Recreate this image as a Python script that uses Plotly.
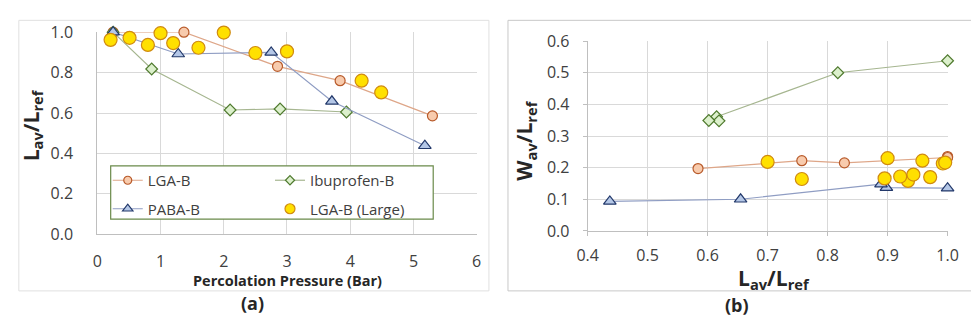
import plotly.graph_objects as go

W, H = 971, 328

# ---------------- Data (panel a) ----------------
press_lga = [0.25, 1.37, 2.85, 3.84, 5.30]
lav_lga = [1.00, 1.00, 0.831, 0.760, 0.586]

press_ibu = [0.25, 0.86, 2.10, 2.89, 3.94]
lav_ibu = [1.00, 0.818, 0.615, 0.620, 0.605]

press_paba = [0.25, 1.28, 2.75, 3.71, 5.18]
lav_paba = [1.00, 0.892, 0.900, 0.658, 0.438]

press_large = [0.21, 0.51, 0.80, 1.00, 1.20, 1.60, 2.00, 2.50, 3.00, 4.18, 4.49]
lav_large = [0.962, 0.972, 0.937, 0.995, 0.946, 0.923, 0.998, 0.897, 0.905, 0.760, 0.702]

# ---------------- Data (panel b) ----------------
b_lav_lga = [1.00, 1.00, 0.828, 0.757, 0.584]
b_wav_lga = [0.235, 0.232, 0.215, 0.222, 0.197]

b_lav_ibu = [1.00, 0.817, 0.615, 0.619, 0.602]
b_wav_ibu = [0.538, 0.500, 0.361, 0.348, 0.349]

b_lav_paba = [1.00, 0.898, 0.889, 0.655, 0.437]
b_wav_paba = [0.135, 0.137, 0.148, 0.100, 0.093]

b_lav_large = [0.958, 0.971, 0.934, 0.992, 0.943, 0.921, 0.996, 0.895, 0.900, 0.757, 0.700]
b_wav_large = [0.222, 0.170, 0.158, 0.213, 0.178, 0.172, 0.216, 0.166, 0.230, 0.164, 0.218]

names = ["LGA-B", "Ibuprofen-B", "PABA-B", "LGA-B (Large)"]

# ---------------- Styles ----------------
FONT = "Open Sans"
TXT = "#404040"
GRID = "#d9d9d9"
AXL = "#bfbfbf"

line_sty = {
    "LGA-B": dict(color="#dea688", width=1.2),
    "Ibuprofen-B": dict(color="#a6b690", width=1.2),
    "PABA-B": dict(color="#8f9dc3", width=1.2),
    "LGA-B (Large)": None,
}
mk_sty = {
    "LGA-B": dict(symbol="circle", size=10, color="#f8cbad", line=dict(color="#b85a2a", width=1.2)),
    "Ibuprofen-B": dict(symbol="diamond", size=9, color="#dcf0cc", line=dict(color="#4f7a2e", width=1.2)),
    "PABA-B": dict(symbol="triangle-up", size=11, color="#b4c7e7", line=dict(color="#22386a", width=1.2)),
    "LGA-B (Large)": dict(symbol="circle", size=13, color="#ffe000", line=dict(color="#d08a10", width=1.2)),
}
legend_mk_size = {"LGA-B": 8, "Ibuprofen-B": 7, "PABA-B": 9, "LGA-B (Large)": 10}
legend_of = {"LGA-B": "legend", "PABA-B": "legend", "Ibuprofen-B": "legend2", "LGA-B (Large)": "legend2"}


def px_x(p):
    return p / W


def px_y(p):
    return (H - p) / H


def trace_kw(nm):
    kw = dict(marker=mk_sty[nm])
    if line_sty[nm] is None:
        kw["mode"] = "markers"
    else:
        kw["mode"] = "lines+markers"
        kw["line"] = line_sty[nm]
    return kw


fig = go.Figure()

a_data = [(press_lga, lav_lga), (press_ibu, lav_ibu), (press_paba, lav_paba), (press_large, lav_large)]
b_data = [(b_lav_lga, b_wav_lga), (b_lav_ibu, b_wav_ibu), (b_lav_paba, b_wav_paba), (b_lav_large, b_wav_large)]

for nm, (xs, ys) in zip(names, a_data):
    fig.add_trace(go.Scatter(x=xs, y=ys, name=nm, xaxis="x", yaxis="y",
                             showlegend=False, legendgroup=nm,
                             cliponaxis=False, **trace_kw(nm)))
for nm, (xs, ys) in zip(names, b_data):
    fig.add_trace(go.Scatter(x=xs, y=ys, name=nm, xaxis="x2", yaxis="y2",
                             legendgroup=nm, showlegend=False,
                             cliponaxis=False, **trace_kw(nm)))
# legend entries (smaller symbols, as in the reference legend)
for nm in names:
    kw = trace_kw(nm)
    mk = dict(mk_sty[nm])
    mk["size"] = legend_mk_size[nm]
    kw["marker"] = mk
    fig.add_trace(go.Scatter(x=[None], y=[None], name=nm, xaxis="x", yaxis="y",
                             legend=legend_of[nm], legendgroup=nm, showlegend=True, **kw))

tickfont = dict(family=FONT, size=16, color=TXT)

fig.update_layout(
    width=W, height=H, margin=dict(l=0, r=0, t=0, b=0),
    paper_bgcolor="white", plot_bgcolor="white",
    font=dict(family=FONT, color=TXT),
    xaxis=dict(domain=[px_x(88.3), px_x(476.5)], range=[0, 6], dtick=1,
               showgrid=True, gridcolor=GRID, gridwidth=1,
               showline=True, linecolor=AXL, zeroline=False,
               ticks="", tickfont=tickfont, ticklabelstandoff=13, anchor="y"),
    yaxis=dict(domain=[px_y(239.3), px_y(22.7)], range=[0, 1.0], dtick=0.2, tickformat=".1f",
               showgrid=True, gridcolor=GRID, gridwidth=1,
               showline=True, linecolor=AXL, zeroline=False,
               ticks="", tickfont=tickfont, ticklabelstandoff=20, anchor="x"),
    xaxis2=dict(domain=[px_x(590), px_x(958.3)], range=[0.4, 1.0], dtick=0.1, tickformat=".1f",
                showgrid=True, gridcolor=GRID, gridwidth=1,
                showline=True, linecolor=AXL, zeroline=False,
                ticks="outside", ticklen=4, tickcolor=AXL,
                tickfont=tickfont, ticklabelstandoff=6, anchor="y2"),
    yaxis2=dict(domain=[px_y(235.7), px_y(32.3)], range=[0, 0.6], dtick=0.1, tickformat=".1f",
                showgrid=True, gridcolor=GRID, gridwidth=1,
                showline=True, linecolor=AXL, zeroline=False,
                ticks="outside", ticklen=4, tickcolor=AXL,
                tickfont=tickfont, ticklabelstandoff=10, anchor="x2"),
    legend=dict(x=px_x(99), y=px_y(164), xanchor="left", yanchor="top",
                bgcolor="rgba(0,0,0,0)", borderwidth=0, tracegroupgap=6,
                font=dict(family=FONT, size=15, color=TXT)),
    legend2=dict(x=px_x(265), y=px_y(164), xanchor="left", yanchor="top",
                 bgcolor="rgba(0,0,0,0)", borderwidth=0, tracegroupgap=6,
                 font=dict(family=FONT, size=15, color=TXT)),
    shapes=[
        dict(type="rect", xref="paper", yref="paper", x0=px_x(8), x1=px_x(489),
             y0=px_y(300), y1=px_y(10), line=dict(color="#e0e0e0", width=1), layer="below"),
        dict(type="rect", xref="paper", yref="paper", x0=px_x(508.5), x1=px_x(990),
             y0=px_y(300), y1=px_y(10), line=dict(color="#c8c8c8", width=1), layer="below"),
        dict(type="rect", xref="paper", yref="paper", x0=px_x(102), x1=px_x(432),
             y0=px_y(223), y1=px_y(166), line=dict(color="#6a8a4a", width=1.2),
             fillcolor="white", layer="above"),
    ],
)

ann = []


def add_ann(text, x, y, size, angle=0):
    ann.append(dict(text=text, x=px_x(x), y=px_y(y), xref="paper", yref="paper",
                    showarrow=False, textangle=angle, xanchor="center", yanchor="middle",
                    font=dict(family=FONT, size=size, color="#262626")))


add_ann("<b>L<sub>av</sub>/L<sub>ref</sub></b>", 21, 123, 21, -90)
add_ann("<b>Percolation Pressure (Bar)</b>", 282.5, 288.5, 14.5)
add_ann("<b>(a)</b>", 247, 313, 18)
add_ann("<b>W<sub>av</sub>/L<sub>ref</sub></b>", 526, 139, 21, -90)
add_ann("<b>L<sub>av</sub>/L<sub>ref</sub></b>", 781, 287, 21)
add_ann("<b>(b)</b>", 743, 315, 18)
fig.update_layout(annotations=ann)

fig.write_html("out.html")
